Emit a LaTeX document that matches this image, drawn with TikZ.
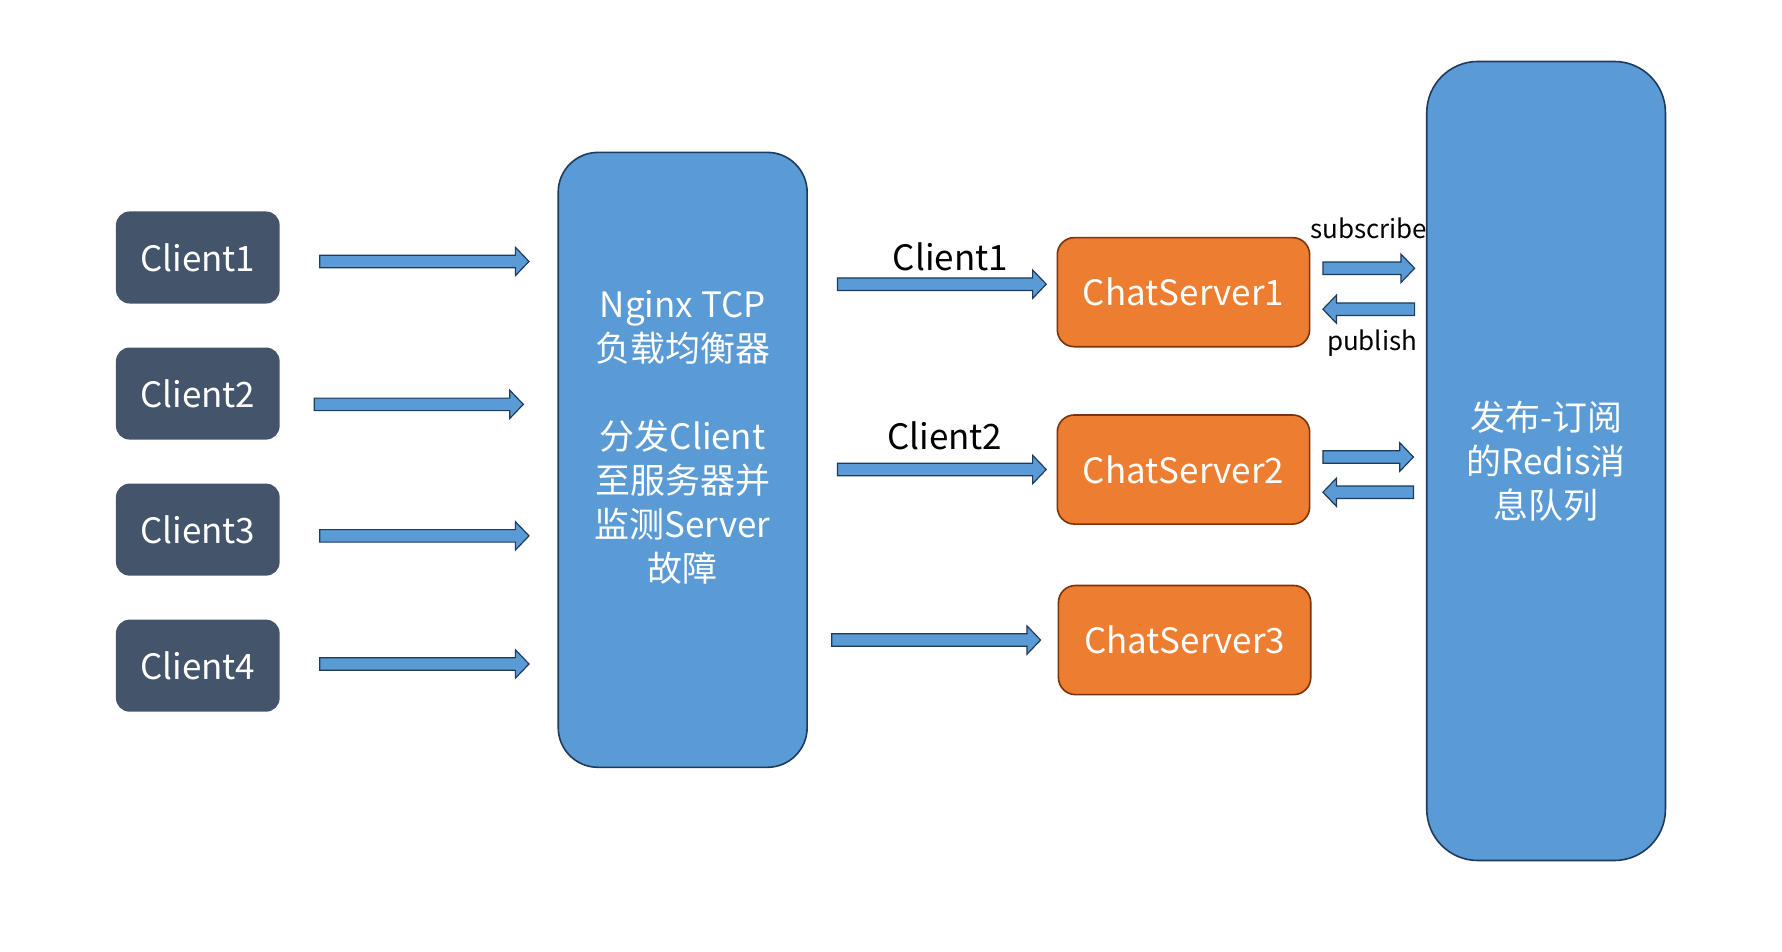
\documentclass[tikz,border=0pt]{standalone}
\usepackage{fontspec}
\setmainfont{Noto Sans CJK SC}
\usepackage{xcolor}
\usepackage{tikz}
\usetikzlibrary{calc,positioning}
\definecolor{slate}{HTML}{44546A}
\definecolor{boxblue}{HTML}{5B9BD5}
\definecolor{navy}{HTML}{1F3A5C}
\definecolor{boxorange}{HTML}{ED7D31}
\definecolor{rust}{HTML}{7A330C}
\newcommand{\MainFont}{\fontsize{17.5}{22}\selectfont}
\newcommand{\SmallFont}{\fontsize{13}{16}\selectfont}
\tikzset{
  ClientBox/.style={
    fill=slate, rounded corners=0.24cm,
    minimum width=2.88cm, minimum height=1.62cm,
    text=white, font=\MainFont
  },
  TallBox/.style={
    draw=navy, line width=0.8pt, fill=boxblue,
    text=white, font=\MainFont, align=center
  },
  ServerBox/.style={
    draw=rust, line width=0.8pt, fill=boxorange, rounded corners=0.3cm,
    minimum width=4.44cm, minimum height=1.92cm,
    text=white, font=\MainFont
  },
  FlowArrow/.style={draw=navy, line width=0.6pt, fill=boxblue, line join=miter},
  ArrowLabel/.style={font=\MainFont, text=black},
  SmallLabel/.style={font=\SmallFont, text=black}
}
\newcommand{\BlockArrow}[3]{%
  % #1 = start point, #2 = point giving the x of the tip, #3 = 1 (right) or -1 (left)
  \coordinate (ba-s) at #1;
  \coordinate (ba-x) at #2;
  \coordinate (ba-e) at (ba-s -| ba-x);
  \draw[FlowArrow] ($(ba-s)+(0,-5.5)$) -- ($(ba-e)+(-12*#3,-5.5)$)
    -- ($(ba-e)+(-12*#3,-12.5)$) -- (ba-e) -- ($(ba-e)+(-12*#3,12.5)$)
    -- ($(ba-e)+(-12*#3,5.5)$) -- ($(ba-s)+(0,5.5)$) -- cycle;
}

\begin{document}
\begin{tikzpicture}[x=0.02cm, y=-0.02cm]
  \useasboundingbox (0,0) rectangle (1567.5,837.4);

  % clients
  \node[ClientBox] (cl1) at (174,226.5) {Client1};
  \node[ClientBox, below=0.76cm of cl1] (cl2) {Client2};
  \node[ClientBox, below=0.76cm of cl2] (cl3) {Client3};
  \node[ClientBox, below=0.76cm of cl3] (cl4) {Client4};

  % load balancer
  \node[TallBox, rounded corners=0.7cm, minimum width=4.38cm, minimum height=10.82cm]
    (nginx) at (600.5,404.5) {};
  \node[TallBox, draw=none, fill=none] (nginx-txt) at ($(nginx.center)+(0,-20)$)
    {Nginx TCP\\负载均衡器\\[22pt]分发Client\\至服务器并\\监测Server\\故障};

  % chat servers
  \node[ServerBox] (cs1) at (1041,257) {ChatServer1};
  \node[ServerBox] (cs2) at (1041,413) {ChatServer2};
  \node[ServerBox] (cs3) at (1042,563) {ChatServer3};

  % message queue
  \node[TallBox, rounded corners=0.9cm, minimum width=4.2cm, minimum height=14.06cm]
    (redis) at (1360,405.5) {发布-订阅\\的Redis消\\息队列};

  % clients -> nginx
  \BlockArrow{($(cl1.east)+(35,3.5)$)}{($(nginx.west)+(-25,0)$)}{1}
  \BlockArrow{($(cl2.east)+(30,9.5)$)}{($(nginx.west)+(-30,0)$)}{1}
  \BlockArrow{($(cl3.east)+(35,5.5)$)}{($(nginx.west)+(-25,0)$)}{1}
  \BlockArrow{($(cl4.east)+(35,-1.5)$)}{($(nginx.west)+(-25,0)$)}{1}

  % nginx -> servers
  \BlockArrow{($(nginx.east |- cs1.west)+(26,-7)$)}{($(cs1.west)+(-9,0)$)}{1}
  \BlockArrow{($(nginx.east |- cs2.west)+(26,0)$)}{($(cs2.west)+(-9,0)$)}{1}
  \BlockArrow{($(nginx.east |- cs3.west)+(21,0)$)}{($(cs3.west)+(-15,0)$)}{1}
  \node[ArrowLabel] (lbl-c1) at (836,226) {Client1};
  \node[ArrowLabel] (lbl-c2) at (831,383) {Client2};

  % servers <-> redis
  \BlockArrow{($(cs1.east)+(11,-21)$)}{($(redis.west)+(-10,0)$)}{1}
  \BlockArrow{($(redis.west |- cs1.east)+(-10,15)$)}{($(cs1.east)+(11,0)$)}{-1}
  \BlockArrow{($(cs2.east)+(11,-11)$)}{($(redis.west)+(-11,0)$)}{1}
  \BlockArrow{($(redis.west |- cs2.east)+(-11,20)$)}{($(cs2.east)+(11,0)$)}{-1}
  \node[SmallLabel] (lbl-sub) at (1204,201) {subscribe};
  \node[SmallLabel] (lbl-pub) at (1207,302) {publish};
\end{tikzpicture}
\end{document}
